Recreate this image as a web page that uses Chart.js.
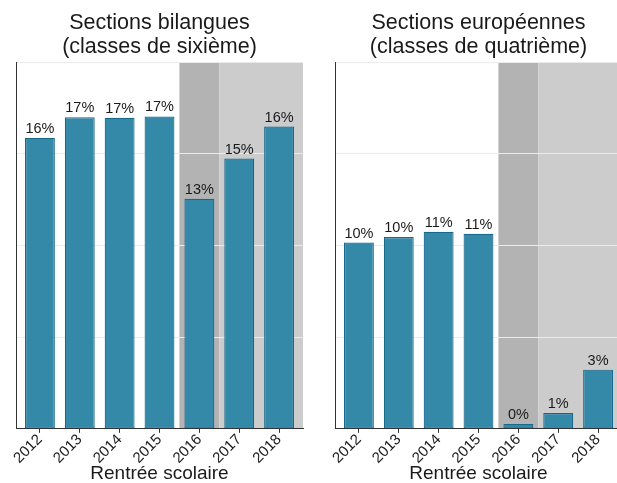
<!DOCTYPE html>
<html>
<head>
<meta charset="utf-8">
<script src="https://cdn.jsdelivr.net/npm/chart.js@4/dist/chart.umd.min.js"></script>
<style>
  html, body { margin: 0; padding: 0; background: #fff; overflow: hidden; }
  #wrap { position: relative; width: 617px; height: 483px; overflow: hidden; }
  .panel { position: absolute; top: 0; width: 310px; height: 483px; }
</style>
</head>
<body>
<div id="wrap">
  <div class="panel" style="left:0"><canvas id="graphBil" width="310" height="483"></canvas></div>
  <div class="panel" style="left:319px"><canvas id="graphEuro" width="310" height="483"></canvas></div>
</div>
<script>
// ====== DONNEES ======
const annees = ['2012', '2013', '2014', '2015', '2016', '2017', '2018'];
const bilangues = [15.87, 16.99, 16.97, 17.04, 12.55, 14.74, 16.49];
const europeennes = [10.16, 10.46, 10.75, 10.64, 0.27, 0.86, 3.23];
const titreBil = ['Sections bilangues', '(classes de sixième)'];
const titreEuro = ['Sections européennes', '(classes de quatrième)'];
const axeX = 'Rentrée scolaire';
const police = "'Liberation Sans', Arial, sans-serif";

// ====== PLUGINS ======
// zones grisees : 2016 fonce, 2017-2018 clair
const zones = {
  id: 'zones',
  beforeDraw(chart) {
    const { ctx, chartArea: a, scales: { x } } = chart;
    const x1 = x.getPixelForValue(3.5);
    const x2 = x.getPixelForValue(4.5);
    ctx.save();
    ctx.fillStyle = '#b3b3b3';
    ctx.fillRect(x1, a.top, x2 - x1, a.bottom - a.top);
    ctx.fillStyle = '#cccccc';
    ctx.fillRect(x2, a.top, a.right - x2, a.bottom - a.top);
    ctx.restore();
  }
};

// etiquettes au-dessus des barres
const etiquettes = {
  id: 'etiquettes',
  afterDatasetsDraw(chart) {
    const { ctx } = chart;
    const meta = chart.getDatasetMeta(0);
    const vals = chart.data.datasets[0].data;
    ctx.save();
    ctx.font = '14.5px ' + police;
    ctx.fillStyle = '#1a1a1a';
    ctx.textAlign = 'center';
    ctx.textBaseline = 'alphabetic';
    meta.data.forEach((bar, i) => {
      ctx.fillText(Math.round(vals[i].y) + '%', bar.x, bar.y - 5);
    });
    ctx.restore();
  }
};

function creerGraph(id, valeurs, titre) {
  return new Chart(document.getElementById(id), {
    type: 'bar',
    data: {
      datasets: [{
        data: valeurs.map((v, i) => ({ x: i, y: v })),
        backgroundColor: '#3488a8',
        borderColor: '#17698c',
        borderWidth: 1.2,
        borderSkipped: false,
        barPercentage: 0.75,
        categoryPercentage: 1
      }]
    },
    options: {
      responsive: false,
      animation: false,
      layout: { padding: { left: 16, right: 7, top: 0, bottom: 0 } },
      plugins: {
        legend: { display: false },
        tooltip: { enabled: false },
        title: {
          display: true,
          text: titre,
          fullSize: false,
          color: '#1a1a1a',
          font: { family: police, size: 21.5, weight: 'normal', lineHeight: 1.12 },
          padding: { top: 11, bottom: 3 }
        }
      },
      scales: {
        x: {
          type: 'linear',
          min: -0.6,
          max: 6.6,
          offset: false,
          afterBuildTicks: s => { s.ticks = annees.map((a, i) => ({ value: i })); },
          ticks: {
            callback: v => annees[v],
            minRotation: 45,
            maxRotation: 45,
            padding: 0,
            color: '#222',
            font: { family: police, size: 15, lineHeight: 0.8 }
          },
          grid: { drawOnChartArea: false, drawTicks: true, tickLength: 4, color: '#333', offset: false },
          border: { display: true, color: '#333', width: 1 },
          title: {
            display: true,
            text: axeX,
            color: '#1a1a1a',
            padding: { top: 0, bottom: 0 },
            font: { family: police, size: 19, lineHeight: 0.95 }
          }
        },
        y: {
          min: 0,
          max: 20,
          ticks: { display: false, stepSize: 5 },
          grid: { color: '#ebebeb', lineWidth: 1, drawTicks: false },
          border: { display: true, color: '#333', width: 1 }
        }
      }
    },
    plugins: [zones, etiquettes]
  });
}

// ====== INITIALISATION ======
creerGraph('graphBil', bilangues, titreBil);
creerGraph('graphEuro', europeennes, titreEuro);
</script>
</body>
</html>
